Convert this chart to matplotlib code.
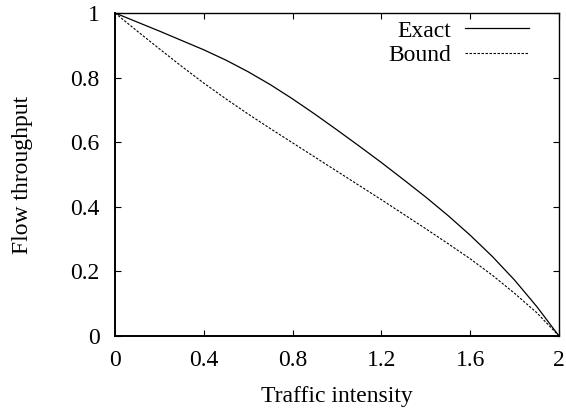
import matplotlib
matplotlib.use('Agg')
import matplotlib.pyplot as plt

# traffic intensity grid and values
intensity = [0.0, 0.1, 0.2, 0.3, 0.4, 0.5, 0.6, 0.7, 0.8, 0.9, 1.0,
             1.1, 1.2, 1.3, 1.4, 1.5, 1.6, 1.7, 1.8, 1.9, 2.0]
exact = [1.000, 0.972, 0.944, 0.915, 0.886, 0.854, 0.818, 0.778, 0.734, 0.687, 0.638,
         0.588, 0.537, 0.484, 0.430, 0.373, 0.312, 0.246, 0.173, 0.091, 0.000]
bound = [1.000, 0.944, 0.889, 0.835, 0.783, 0.734, 0.687, 0.642, 0.598, 0.554, 0.510,
         0.466, 0.422, 0.377, 0.332, 0.286, 0.239, 0.188, 0.132, 0.072, 0.000]

xticks = [0, 0.4, 0.8, 1.2, 1.6, 2]
xtick_labels = ['0', '0.4', '0.8', '1.2', '1.6', '2']
yticks = [0, 0.2, 0.4, 0.6, 0.8, 1]
ytick_labels = ['0', '0.2', '0.4', '0.6', '0.8', '1']

plt.rcParams['font.family'] = ['Liberation Serif', 'DejaVu Serif']
plt.rcParams['font.size'] = 17

fig = plt.figure(figsize=(5.66, 4.11), dpi=100)
ax = fig.add_axes([115 / 566, 75 / 411, 444 / 566, 323 / 411])

ax.plot(intensity, exact, color='black', lw=0.9, label='Exact')
ax.plot(intensity, bound, color='black', lw=0.8, dashes=(2.2, 1.4), label='Bound')

ax.set_xlim(0, 2)
ax.set_ylim(0, 1)
ax.set_xticks(xticks)
ax.set_xticklabels(xtick_labels)
ax.set_yticks(yticks)
ax.set_yticklabels(ytick_labels)
ax.tick_params(direction='in', length=4, width=0.8, top=True, right=True)
ax.tick_params(axis='y', pad=11)
ax.tick_params(axis='x', pad=10)
for side in ['top', 'right']:
    ax.spines[side].set_linewidth(1.0)
for side in ['left', 'bottom']:
    ax.spines[side].set_linewidth(1.4)

ax.set_xlabel('Traffic intensity')
ax.set_ylabel('Flow throughput')
ax.xaxis.set_label_coords(0.5, -0.155)
ax.yaxis.set_label_coords(-0.184, 0.5)

ax.legend(loc='upper right', bbox_to_anchor=(0.937, 0.985), frameon=False,
          markerfirst=False, handlelength=2.7, handletextpad=0.6,
          borderpad=0.1, borderaxespad=0, labelspacing=0.12)

fig.savefig('out.png', dpi=100)
